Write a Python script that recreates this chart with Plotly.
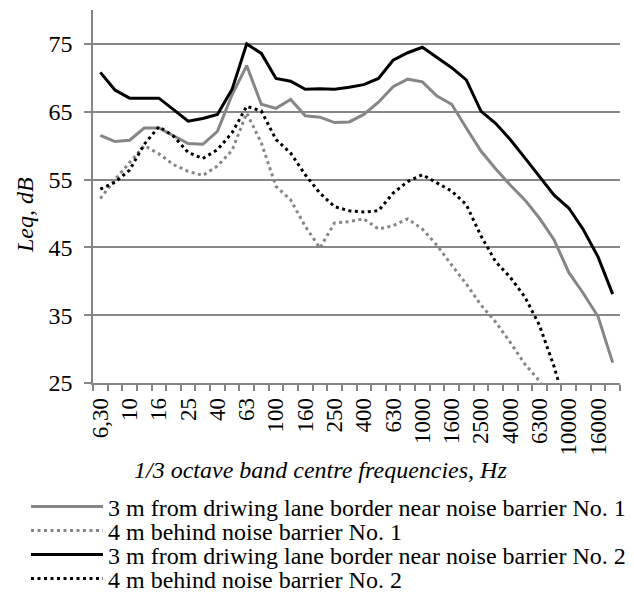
import plotly.graph_objects as go

freqs = ["6,30", "8", "10", "12,5", "16", "20", "25", "31,5", "40", "50", "63", "80",
         "100", "125", "160", "200", "250", "315", "400", "500", "630", "800", "1000",
         "1250", "1600", "2000", "2500", "3150", "4000", "5000", "6300", "8000",
         "10000", "12500", "16000", "20000"]

near_b1 = [61.5, 60.6, 60.8, 62.6, 62.6, 61.4, 60.3, 60.2, 62.1, 67.5, 71.8, 66.1,
           65.5, 66.8, 64.4, 64.2, 63.4, 63.5, 64.6, 66.4, 68.7, 69.8, 69.4, 67.3,
           66.1, 62.6, 59.2, 56.6, 54.2, 52.0, 49.3, 46.1, 41.3, 38.2, 34.8, 28.0]

behind_b1 = [52.2, 55.0, 57.5, 60.0, 58.8, 57.2, 56.2, 55.6, 57.0, 59.3, 64.8, 60.4,
             54.0, 52.0, 48.1, 44.9, 48.6, 48.8, 49.2, 47.7, 48.2, 49.2, 47.7, 45.3,
             42.4, 39.6, 36.5, 34.0, 31.0, 27.8, 25.3, 22.0, None, None, None, None]

near_b2 = [70.8, 68.2, 67.0, 67.0, 67.0, 65.3, 63.6, 64.0, 64.6, 68.3, 75.0, 73.6,
           69.9, 69.5, 68.3, 68.4, 68.3, 68.6, 69.0, 69.9, 72.6, 73.7, 74.5, 73.0,
           71.5, 69.7, 65.1, 63.3, 60.9, 58.2, 55.5, 52.7, 50.8, 47.6, 43.6, 38.1]

behind_b2 = [53.6, 54.6, 56.4, 60.2, 62.8, 61.4, 59.0, 58.1, 59.4, 61.9, 65.8, 65.1,
             60.9, 58.9, 55.7, 53.0, 51.0, 50.4, 50.2, 50.4, 53.0, 54.7, 55.7, 54.5,
             53.3, 51.3, 46.7, 42.9, 40.6, 37.7, 33.5, 27.4, 20.0, None, None, None]

series_names = ["3 m from driwing lane border near noise barrier No. 1",
                "4 m behind noise barrier No. 1",
                "3 m from driwing lane border near noise barrier No. 2",
                "4 m behind noise barrier No. 2"]

x_title = "<i>1/3 octave band centre frequencies, Hz</i>"
y_title = "<i>Leq, dB</i>"

tick_text = [f if i % 2 == 0 else "" for i, f in enumerate(freqs)]

GRAY = "#868686"
FONT = "Liberation Serif, Times New Roman, Times, serif"

# The page body has an 8px margin, so the figure starts at (8, 8) in the window.
OFF = 8
W, H = 634 - OFF, 599 - OFF
L, R, T, B = 93 - OFF, 14, 10 - OFF, 216
PH = H - T - B
PW = W - L - R


def py(ypx):
    return (H - B - (ypx - OFF)) / PH


def px(xpx):
    return ((xpx - OFF) - L) / PW


fig = go.Figure()
styles = [
    (near_b1, GRAY, "solid", 3),
    (behind_b1, GRAY, "3px,3.5px", 3),
    (near_b2, "#000000", "solid", 3),
    (behind_b2, "#000000", "3px,3.5px", 3),
]
legend_ids = ["legend", "legend2", "legend3", "legend4"]
for (vals, col, dash, w), name, lg in zip(styles, series_names, legend_ids):
    fig.add_trace(go.Scatter(x=freqs, y=vals, name=name, mode="lines",
                             line=dict(color=col, dash=dash, width=w),
                             connectgaps=False, legend=lg))

row_y = [507, 531, 555, 579]
legend_layout = {}
for lg, ry in zip(legend_ids, row_y):
    legend_layout[lg] = dict(x=px(26), xanchor="left", y=py(ry), yanchor="middle",
                             orientation="v", font=dict(family=FONT, size=24),
                             itemwidth=72, bgcolor="rgba(0,0,0,0)",
                             borderwidth=0)

fig.update_layout(
    width=W, height=H,
    margin=dict(l=L, r=R, t=T, b=B, autoexpand=False),
    paper_bgcolor="white", plot_bgcolor="white",
    font=dict(family=FONT, size=24, color="black"),
    showlegend=True,
    xaxis=dict(type="category", categoryorder="array", categoryarray=freqs,
               range=[-0.5, 35.5], tickmode="array", tickvals=freqs,
               ticktext=tick_text, tickangle=-90, tickson="boundaries",
               ticks="outside", ticklen=6, tickcolor=GRAY, tickwidth=1.5,
               showline=True, linecolor=GRAY, linewidth=1.5, automargin=False,
               showgrid=False, zeroline=False, ticklabelstandoff=4,
               tickfont=dict(family=FONT, size=23)),
    yaxis=dict(range=[25, 80], tick0=25, dtick=10, tickmode="linear",
               showgrid=True, gridcolor=GRAY, gridwidth=1.5, automargin=False,
               ticks="outside", ticklen=7, tickcolor=GRAY, tickwidth=1.5,
               showline=True, linecolor=GRAY, linewidth=1.5, zeroline=False,
               ticklabelstandoff=7,
               tickfont=dict(family=FONT, size=24)),
    annotations=[
        dict(text=x_title, xref="paper", yref="paper", x=px(320), y=py(470),
             xanchor="center", yanchor="middle", showarrow=False,
             font=dict(family=FONT, size=24)),
        dict(text=y_title, xref="paper", yref="paper", x=px(25), y=py(215),
             xanchor="center", yanchor="middle", showarrow=False, textangle=-90,
             font=dict(family=FONT, size=24)),
    ],
    **legend_layout,
)

fig.write_html("out.html")
